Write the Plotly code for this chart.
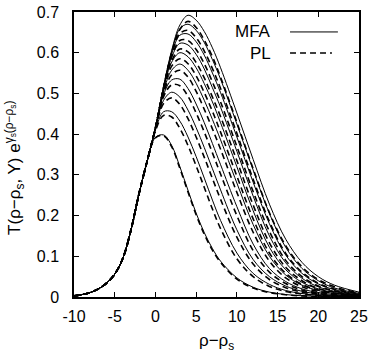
import plotly.graph_objects as go

# rising edge, the same for every curve
x_left = [-10, -9, -8, -7, -6, -5, -4, -3, -2]
y_left = [0.003, 0.006, 0.011, 0.020, 0.034, 0.056, 0.095, 0.165, 0.255]

# x points where the curves separate
x_grid = [-1, 0, 1, 2, 3, 4, 5, 6, 7, 8, 10, 12, 14, 16, 18, 20, 22, 25]

# MFA (solid)
mfa_1 = [0.335, 0.392, 0.398, 0.372, 0.320, 0.262, 0.206, 0.158, 0.119, 0.088, 0.047, 0.024, 0.012, 0.006, 0.003, 0.0015, 0.0008, 0.0003]
mfa_2 = [0.335, 0.410, 0.455, 0.455, 0.432, 0.393, 0.345, 0.292, 0.238, 0.188, 0.108, 0.058, 0.031, 0.016, 0.0085, 0.0045, 0.0024, 0.0009]
mfa_3 = [0.335, 0.414, 0.483, 0.503, 0.491, 0.459, 0.416, 0.367, 0.315, 0.263, 0.165, 0.092, 0.050, 0.027, 0.014, 0.0075, 0.004, 0.0015]
mfa_4 = [0.335, 0.415, 0.497, 0.533, 0.535, 0.512, 0.474, 0.428, 0.377, 0.325, 0.222, 0.130, 0.070, 0.038, 0.020, 0.011, 0.006, 0.0022]
mfa_5 = [0.335, 0.415, 0.505, 0.557, 0.572, 0.557, 0.525, 0.483, 0.436, 0.386, 0.280, 0.178, 0.100, 0.054, 0.029, 0.016, 0.0085, 0.0032]
mfa_6 = [0.335, 0.415, 0.511, 0.577, 0.600, 0.590, 0.563, 0.524, 0.479, 0.428, 0.320, 0.212, 0.122, 0.067, 0.036, 0.020, 0.011, 0.004]
mfa_7 = [0.335, 0.415, 0.513, 0.589, 0.623, 0.619, 0.596, 0.560, 0.514, 0.466, 0.358, 0.248, 0.150, 0.084, 0.046, 0.025, 0.014, 0.005]
mfa_8 = [0.335, 0.415, 0.514, 0.597, 0.643, 0.646, 0.627, 0.594, 0.550, 0.502, 0.393, 0.282, 0.180, 0.103, 0.058, 0.032, 0.018, 0.007]
mfa_9 = [0.335, 0.415, 0.515, 0.602, 0.659, 0.670, 0.655, 0.625, 0.583, 0.535, 0.425, 0.312, 0.205, 0.122, 0.070, 0.040, 0.022, 0.009]
mfa_10 = [0.335, 0.415, 0.516, 0.606, 0.668, 0.692, 0.680, 0.652, 0.612, 0.563, 0.452, 0.338, 0.228, 0.142, 0.085, 0.050, 0.029, 0.012]

# PL (dashed)
pl_1 = [0.335, 0.391, 0.396, 0.369, 0.316, 0.258, 0.202, 0.154, 0.115, 0.085, 0.044, 0.022, 0.011, 0.0055, 0.0027, 0.0013, 0.0007, 0.0003]
pl_2 = [0.335, 0.408, 0.446, 0.442, 0.414, 0.372, 0.322, 0.269, 0.216, 0.168, 0.094, 0.050, 0.026, 0.0135, 0.007, 0.0037, 0.002, 0.0007]
pl_3 = [0.335, 0.413, 0.475, 0.489, 0.473, 0.438, 0.393, 0.343, 0.291, 0.240, 0.147, 0.081, 0.043, 0.023, 0.012, 0.0064, 0.0034, 0.0012]
pl_4 = [0.335, 0.414, 0.492, 0.521, 0.519, 0.493, 0.452, 0.405, 0.354, 0.302, 0.200, 0.114, 0.061, 0.033, 0.017, 0.009, 0.005, 0.0018]
pl_5 = [0.335, 0.415, 0.501, 0.546, 0.557, 0.540, 0.505, 0.461, 0.413, 0.363, 0.257, 0.159, 0.088, 0.047, 0.025, 0.0135, 0.0072, 0.0027]
pl_6 = [0.335, 0.415, 0.508, 0.567, 0.585, 0.573, 0.543, 0.502, 0.456, 0.405, 0.297, 0.192, 0.108, 0.058, 0.031, 0.017, 0.0093, 0.0034]
pl_7 = [0.335, 0.415, 0.511, 0.580, 0.609, 0.602, 0.576, 0.538, 0.491, 0.443, 0.335, 0.226, 0.133, 0.073, 0.040, 0.021, 0.012, 0.0043]
pl_8 = [0.335, 0.415, 0.513, 0.590, 0.630, 0.630, 0.608, 0.573, 0.528, 0.479, 0.370, 0.259, 0.161, 0.090, 0.050, 0.027, 0.015, 0.006]
pl_9 = [0.335, 0.415, 0.514, 0.596, 0.647, 0.655, 0.637, 0.604, 0.561, 0.512, 0.402, 0.289, 0.185, 0.107, 0.061, 0.034, 0.019, 0.0075]
pl_10 = [0.335, 0.415, 0.515, 0.601, 0.657, 0.677, 0.662, 0.631, 0.590, 0.540, 0.429, 0.315, 0.207, 0.126, 0.074, 0.043, 0.025, 0.010]

mfa_curves = [mfa_1, mfa_2, mfa_3, mfa_4, mfa_5, mfa_6, mfa_7, mfa_8, mfa_9, mfa_10]
pl_curves = [pl_1, pl_2, pl_3, pl_4, pl_5, pl_6, pl_7, pl_8, pl_9, pl_10]

x_ticks = [-10, -5, 0, 5, 10, 15, 20, 25]
x_ticktext = ["-10", "-5", "0", "5", "10", "15", "20", "25"]
y_ticks = [0, 0.1, 0.2, 0.3, 0.4, 0.5, 0.6, 0.7]
y_ticktext = ["0", "0.1", "0.2", "0.3", "0.4", "0.5", "0.6", "0.7"]

FONT = "Liberation Sans, Arial, Helvetica, sans-serif"

fig = go.Figure()

xs = x_left + x_grid
for ys in pl_curves:
    fig.add_trace(go.Scatter(
        x=xs, y=y_left + ys, mode="lines",
        line=dict(color="black", width=1.6, dash="6px,4px", shape="spline", smoothing=1.0),
        showlegend=False, hoverinfo="skip",
    ))
for ys in mfa_curves:
    fig.add_trace(go.Scatter(
        x=xs, y=y_left + ys, mode="lines",
        line=dict(color="black", width=1, shape="spline", smoothing=1.0),
        showlegend=False, hoverinfo="skip",
    ))

axis_common = dict(
    showline=True, linecolor="black", linewidth=1.5, mirror="allticks",
    ticks="inside", ticklen=5, tickwidth=1, tickcolor="black",
    showgrid=False, zeroline=False, automargin=False,
    tickfont=dict(family=FONT, size=16, color="black"),
)

fig.update_xaxes(range=[-10, 25], tickvals=x_ticks, ticktext=x_ticktext,
                 ticklabelstandoff=4, **axis_common)
fig.update_yaxes(range=[0, 0.7], tickvals=y_ticks, ticktext=y_ticktext,
                 ticklabelstandoff=10, **axis_common)

# gnuplot style key: text on the left, sample on the right
fig.add_annotation(xref="paper", yref="paper", x=0.698, y=0.930, xanchor="right", yanchor="middle",
                   text="MFA", showarrow=False, font=dict(family=FONT, size=17, color="black"))
fig.add_annotation(xref="paper", yref="paper", x=0.698, y=0.856, xanchor="right", yanchor="middle",
                   text="PL", showarrow=False, font=dict(family=FONT, size=17, color="black"))
fig.add_shape(type="line", xref="paper", yref="paper", x0=0.758, x1=0.926, y0=0.930, y1=0.930,
              line=dict(color="black", width=1))
fig.add_shape(type="line", xref="paper", yref="paper", x0=0.758, x1=0.905, y0=0.856, y1=0.856,
              line=dict(color="black", width=1.6, dash="6px,4px"))

# axis titles
fig.add_annotation(xref="paper", yref="paper", x=0.5, y=-0.158, xanchor="center", yanchor="middle",
                   text="ρ−ρ<sub>s</sub>", showarrow=False, font=dict(family=FONT, size=17, color="black"))
fig.add_annotation(xref="paper", yref="paper", x=-0.207, y=0.453, xanchor="center", yanchor="middle",
                   textangle=-90, text="T(ρ−ρ<sub>s</sub>, Y) e<sup>γ<sub>s</sub>(ρ−ρ<sub>s</sub>)</sup>",
                   showarrow=False, font=dict(family=FONT, size=17, color="black"))

fig.update_layout(
    width=382, height=355,
    margin=dict(l=74, r=23, t=12, b=58),
    paper_bgcolor="white", plot_bgcolor="white",
    showlegend=False,
)

fig.write_html("out.html", config={"displayModeBar": False},
               post_script="document.body.style.margin='0';")
